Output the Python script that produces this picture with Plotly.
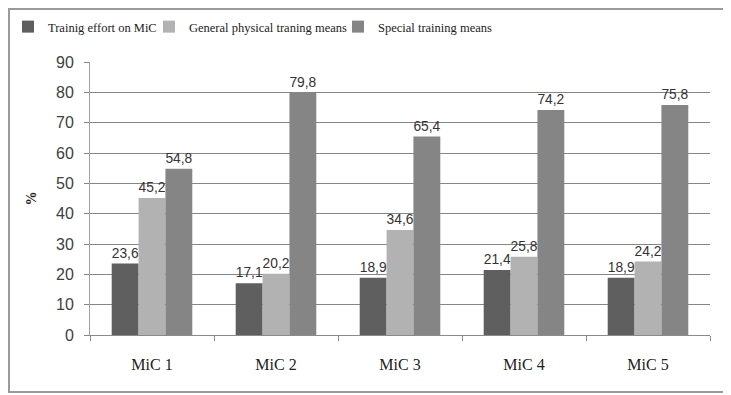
import plotly.graph_objects as go

categories = ["MiC 1", "MiC 2", "MiC 3", "MiC 4", "MiC 5"]
effort = [23.6, 17.1, 18.9, 21.4, 18.9]
general = [45.2, 20.2, 34.6, 25.8, 24.2]
special = [54.8, 79.8, 65.4, 74.2, 75.8]
series_names = ["Trainig effort on MiC", "General physical traning means", "Special training means"]
colors = ["#5f5f5f", "#b2b2b2", "#858585"]
legend_ids = ["legend", "legend2", "legend3"]
legend_x_px = [0, 141, 330]

def fmt(v):
    return f"{v:.1f}".replace(".", ",")

fig = go.Figure()
for name, vals, col, lg in zip(series_names, [effort, general, special], colors, legend_ids):
    fig.add_trace(go.Bar(
        x=categories, y=vals, name=name,
        marker=dict(color=col, line=dict(width=0)),
        text=[fmt(v) for v in vals], textposition="outside",
        textfont=dict(family="Liberation Sans", size=15, color="#333333"),
        cliponaxis=False, legend=lg,
    ))

W, H = 720, 385
L, R, T, B = 82, 18, 54, 58
pw, ph = W - L - R, H - T - B

legend_common = dict(orientation="h", xref="container", yref="container",
                     xanchor="left", y=1 - 4 / H, yanchor="top",
                     font=dict(family="Liberation Serif", size=12.5, color="#222222"),
                     bgcolor="rgba(0,0,0,0)")

layout_legends = {}
for lg, xp in zip(legend_ids, legend_x_px):
    layout_legends[lg] = dict(legend_common, x=xp / W)

fig.update_layout(
    width=W, height=H,
    margin=dict(l=L, r=R, t=T, b=B, autoexpand=False),
    paper_bgcolor="white", plot_bgcolor="white",
    barmode="group", bargap=0.35, bargroupgap=0,
    showlegend=True,
    font=dict(family="Liberation Sans", color="#333333"),
    xaxis=dict(showline=True, linecolor="#8a8a8a", linewidth=1,
               ticks="outside", tickson="boundaries", ticklen=5, tickcolor="#8a8a8a",
               ticklabelstandoff=15,
               tickfont=dict(family="Liberation Serif", size=16, color="#222222"),
               showgrid=False),
    yaxis=dict(range=[0, 90], dtick=10, showline=True, linecolor="#a0a0a0", linewidth=1,
               ticks="outside", ticklen=5, tickcolor="#868686",
               ticklabelstandoff=7,
               gridcolor="#868686", gridwidth=1, zeroline=False,
               tickfont=dict(family="Liberation Sans", size=16, color="#404040"),
               title=dict(text="<b>%</b>", font=dict(family="Liberation Serif", size=14, color="#222222"), standoff=16)),
    shapes=[dict(type="rect", xref="paper", yref="paper",
                 x0=-(L - 1) / pw, x1=1 + (R - 1) / pw,
                 y0=-(B - 1) / ph, y1=1 + (T - 1) / ph,
                 line=dict(color="#9a9a9a", width=2), fillcolor="rgba(0,0,0,0)", layer="below")],
    **layout_legends,
)

fig.write_html("out.html")
